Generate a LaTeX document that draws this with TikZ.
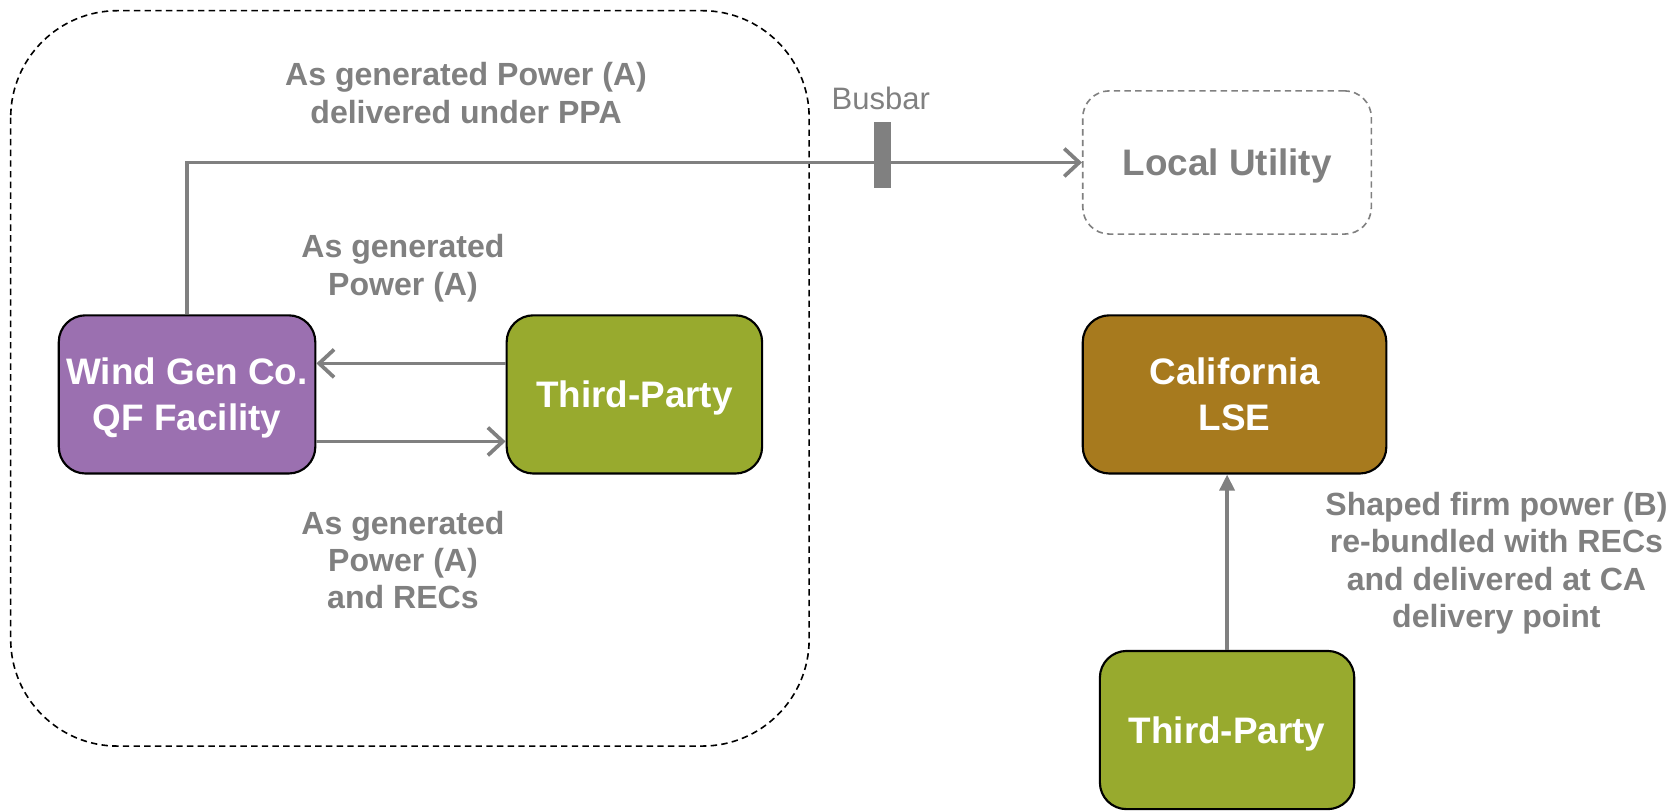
\documentclass[tikz,border=0pt]{standalone}
\usepackage{fontspec}
\setmainfont{Liberation Sans}
\usetikzlibrary{arrows.meta}
\definecolor{txtgray}{HTML}{808080}
\definecolor{purplebox}{HTML}{9B70B0}
\definecolor{greenbox}{HTML}{98AA2E}
\definecolor{brownbox}{HTML}{A77A1E}
\tikzset{
  box/.style={draw=black, line width=2pt, rounded corners=25pt, minimum width=#1, minimum height=148pt, inner sep=0pt, align=center, text=white, text depth=0pt, font=\bfseries\fontsize{34.5}{43}\selectfont},
  lbl/.style={align=center, text=txtgray, font=\bfseries\fontsize{30}{35}\selectfont, inner sep=0pt},
  conn/.style={draw=txtgray, line width=3.5pt, -{Straight Barb[length=14pt,width=26pt,line width=3.5pt]}},
  connup/.style={draw=txtgray, line width=3.5pt, -{Triangle[length=15pt,width=14pt]}},
}
\begin{document}
\begin{tikzpicture}[x=1pt,y=-1pt]
\useasboundingbox (0,0) rectangle (1568,759);
% dashed enclosure
\draw[black, line width=1.5pt, dash pattern=on 6pt off 4pt, rounded corners=100pt] (10,10) rectangle (757,698);
% boxes
\node[box=240pt, fill=purplebox] (wg) at (175,369) {Wind Gen Co.\\QF Facility};
\node[box=239pt, fill=greenbox] (tp) at (593.5,369) {Third-Party};
\node[box=284pt, fill=brownbox] (lse) at (1155,369) {California\\LSE};
\node[box=238pt, fill=greenbox] (tpb) at (1148,683) {Third-Party};
\node[draw=txtgray, line width=1.5pt, dash pattern=on 6pt off 4pt, rounded corners=25pt, minimum width=270pt, minimum height=134pt, inner sep=0pt, text=txtgray, text depth=0pt, font=\bfseries\fontsize{34.5}{43}\selectfont] (lu) at (1148,152) {Local Utility};
% connectors
\draw[conn] (wg.north) |- (lu.west);
\node[fill=txtgray, minimum width=16pt, minimum height=62pt, inner sep=0pt] (bus) at (826,145) {};
\node[text=txtgray, font=\fontsize{29}{34}\selectfont, inner sep=0pt, anchor=south] (buslbl) at (824,103) {Busbar};
\draw[conn] ([yshift=29pt]tp.west) -- ([yshift=29pt]wg.east);
\draw[conn] ([yshift=-44pt]wg.east) -- ([yshift=-44pt]tp.west);
\draw[connup] (tpb.north) -- (tpb.north |- lse.south);
% labels
\node[lbl] (l1) at (436,87) {As generated Power (A)\\delivered under PPA};
\node[lbl] (l2) at (377,251) {As generated\\Power (A)};
\node[lbl] (l3) at (377,524) {As generated\\Power (A)\\and RECs};
\node[lbl] (l4) at (1400,527) {Shaped firm power (B)\\re-bundled with RECs\\and delivered at CA\\delivery point};
\end{tikzpicture}
\end{document}
